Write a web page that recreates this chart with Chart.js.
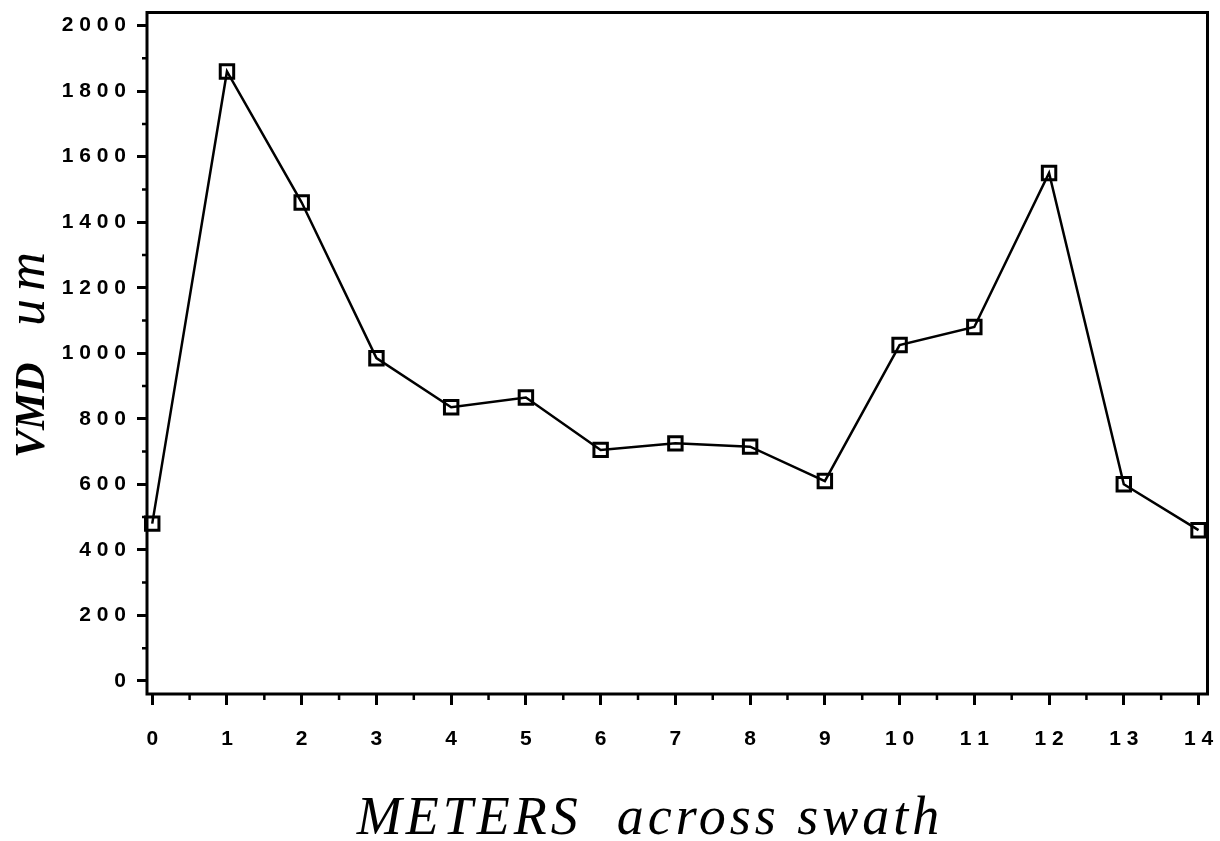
<!DOCTYPE html>
<html>
<head>
<meta charset="utf-8">
<script src="https://cdn.jsdelivr.net/npm/chart.js@4.4.1/dist/chart.umd.min.js"></script>
<style>
  html, body { margin: 0; padding: 0; background: #fff; }
  #vmd-chart { display: block; }
</style>
</head>
<body>
<canvas id="vmd-chart" width="1220" height="841"></canvas>
<script>
// Distância (m) através da faixa e VMD medido (um)
const meters = [0, 1, 2, 3, 4, 5, 6, 7, 8, 9, 10, 11, 12, 13, 14];
const vmdValues = [480, 1860, 1460, 985, 835, 865, 705, 725, 715, 610, 1025, 1080, 1550, 600, 460];
const yTickValues = [0, 200, 400, 600, 800, 1000, 1200, 1400, 1600, 1800, 2000];
const xTickValues = [0, 1, 2, 3, 4, 5, 6, 7, 8, 9, 10, 11, 12, 13, 14];

const spaced = (v) => String(v).split('').join(' ');
const noPadding = () => ({ left: 0, top: 0, right: 0, bottom: 0 });

// moldura, marcas menores e títulos dos eixos
const framePlugin = {
    id: 'frame',
    afterDraw(chart) {
        const { ctx, chartArea: a, scales } = chart;
        ctx.save();
        ctx.strokeStyle = '#000';
        ctx.lineWidth = 3;
        ctx.strokeRect(a.left, a.top, a.right - a.left, a.bottom - a.top);

        // marcas menores
        ctx.lineWidth = 2.5;
        ctx.beginPath();
        for (let v = 100; v < 2000; v += 200) {
            const y = scales.y.getPixelForValue(v);
            ctx.moveTo(a.left - 5, y); ctx.lineTo(a.left, y);
        }
        for (let v = 0.5; v < 14; v += 1) {
            const x = scales.x.getPixelForValue(v);
            ctx.moveTo(x, a.bottom); ctx.lineTo(x, a.bottom + 6);
        }
        ctx.stroke();

        // título do eixo Y
        ctx.fillStyle = '#000';
        ctx.translate(44, 458);
        ctx.rotate(-Math.PI / 2);
        ctx.textAlign = 'left';
        ctx.textBaseline = 'alphabetic';
        ctx.font = 'bold italic 42px "Liberation Serif"';
        ctx.fillText('VMD', 0, 0);
        ctx.font = 'italic 54px "Liberation Serif"';
        ctx.letterSpacing = '8px';
        ctx.fillText('um', 132, 0);
        ctx.restore();

        // título do eixo X
        ctx.save();
        ctx.fillStyle = '#000';
        ctx.textAlign = 'center';
        ctx.textBaseline = 'alphabetic';
        ctx.font = 'italic 54px "Liberation Serif"';
        ctx.letterSpacing = '4px';
        ctx.fillText('METERS  across swath', 650, 834);
        ctx.restore();
    }
};

new Chart(document.getElementById('vmd-chart'), {
    type: 'line',
    data: {
        datasets: [{
            label: 'VMD',
            data: meters.map((m, i) => ({ x: m, y: vmdValues[i] })),
            borderColor: '#000',
            borderWidth: 2.5,
            tension: 0,
            pointStyle: 'rect',
            pointRadius: 9.5,
            pointBorderWidth: 3,
            pointBorderColor: '#000',
            pointBackgroundColor: 'rgba(0,0,0,0)',
            clip: false
        }]
    },
    options: {
        responsive: false,
        animation: false,
        layout: { padding: { top: 10, right: 6, left: 0, bottom: 0 } },
        plugins: { legend: { display: false }, tooltip: { enabled: false } },
        scales: {
            x: {
                type: 'linear',
                min: -0.07,
                max: 14.12,
                afterFit: (s) => { s.height = 147; s.paddingLeft = 0; s.paddingRight = 0; s.getPadding = noPadding; },
                afterBuildTicks: (s) => { s.ticks = xTickValues.map(v => ({ value: v })); },
                grid: { drawOnChartArea: false, tickLength: 11, tickWidth: 3, tickColor: '#000' },
                border: { display: false },
                ticks: {
                    color: '#000',
                    padding: 22,
                    maxRotation: 0,
                    autoSkip: false,
                    font: { family: '"Liberation Sans"', size: 21, weight: 'bold' },
                    callback: (v) => spaced(v)
                }
            },
            y: {
                min: -40,
                max: 2040,
                afterFit: (s) => { s.width = 147; s.paddingTop = 0; s.paddingBottom = 0; s.getPadding = noPadding; },
                afterBuildTicks: (s) => { s.ticks = yTickValues.map(v => ({ value: v })); },
                grid: { drawOnChartArea: false, tickLength: 10, tickWidth: 3, tickColor: '#000' },
                border: { display: false },
                ticks: {
                    color: '#000',
                    padding: 11,
                    font: { family: '"Liberation Sans"', size: 21, weight: 'bold' },
                    callback: (v) => spaced(v)
                }
            }
        }
    },
    plugins: [framePlugin]
});
</script>
</body>
</html>
